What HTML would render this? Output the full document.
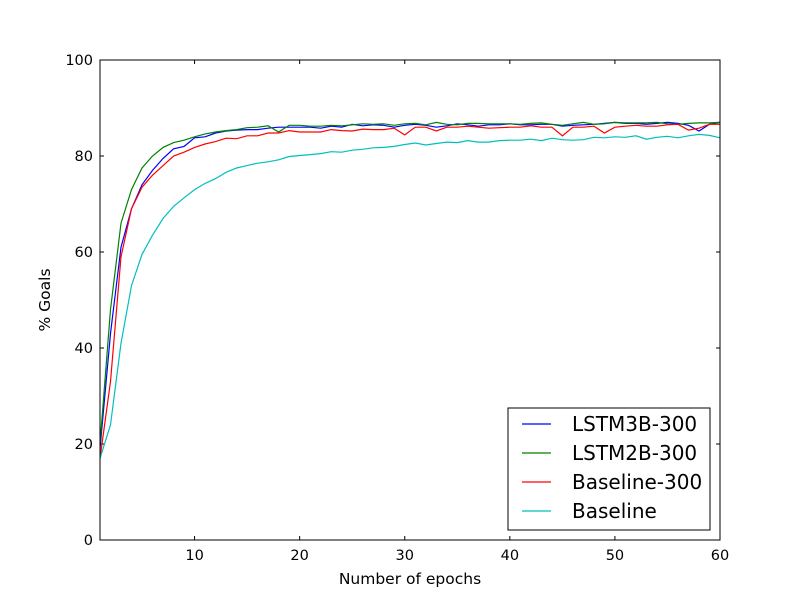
<!DOCTYPE html>
<html><head><meta charset="utf-8"><style>
body{margin:0;background:#fff;}
svg{display:block;font-family:"DejaVu Sans","Liberation Sans",sans-serif;}
</style></head><body>
<svg id="chart" width="800" height="600">
<rect x="0" y="0" width="800" height="600" fill="#fff"/>
<g id="ticks"></g>
<g id="series"></g>
<rect x="100" y="60" width="620" height="480" fill="none" stroke="#000" stroke-width="1"/>
<text x="410" y="584" font-size="15.5" text-anchor="middle">Number of epochs</text>
<text x="50" y="300" font-size="15.5" text-anchor="middle" transform="rotate(-90 50 300)">% Goals</text>
<g id="legend">
<rect x="508" y="408" width="202" height="122" fill="#fff" stroke="#000" stroke-width="1"/>
</g>
</svg>
<script>
const epochs = Array.from({length:60},(_,i)=>i+1);
const lstm3b = [19,43,61,69,74,77,79.5,81.5,82,83.8,84,84.8,85.2,85.4,85.5,85.5,85.8,86,86,86,86,85.8,86.2,86,86.6,86.3,86.5,86.4,86,86.4,86.6,86.4,86,86.3,86.7,86.5,86.2,86.5,86.5,86.7,86.5,86.5,86.6,86.6,86.2,86.4,86.5,86.6,86.8,87,86.8,86.8,86.6,86.8,87,86.8,86.4,85.2,86.6,87];
const lstm2b = [20,48,66,73,77.5,80,81.8,82.8,83.3,84,84.6,85,85.3,85.5,85.9,86,86.3,85,86.4,86.4,86.2,86.2,86.4,86.3,86.5,86.7,86.6,86.7,86.4,86.7,86.8,86.5,87,86.6,86.5,86.8,86.8,86.7,86.7,86.7,86.6,86.8,86.9,86.6,86.4,86.7,87,86.6,86.7,87,86.9,86.9,86.9,87,86.7,86.6,86.8,86.9,86.9,87];
const base300 = [17,33,59,69,73.5,76,78,80,80.8,81.8,82.5,83,83.7,83.6,84.2,84.2,84.8,84.8,85.3,85,85,85,85.5,85.3,85.2,85.6,85.5,85.5,85.8,84.4,86,86,85.2,86,86,86.2,86,85.8,85.9,86,86,86.3,86,86,84.2,86,86,86.2,84.8,86,86.2,86.4,86.2,86.2,86.5,86.6,85.4,85.8,86.6,86.6];
const baseline = [17,24,41,53,59.5,63.5,67,69.5,71.3,73,74.3,75.3,76.6,77.5,78,78.5,78.8,79.2,79.9,80.1,80.3,80.5,80.9,80.8,81.2,81.4,81.7,81.8,82,82.4,82.7,82.3,82.6,82.9,82.8,83.2,82.9,82.9,83.2,83.3,83.3,83.5,83.2,83.7,83.4,83.3,83.4,83.9,83.8,84,83.9,84.2,83.5,83.9,84.1,83.8,84.2,84.5,84.3,83.8];
const xTicks = [10,20,30,40,50,60];
const yTicks = [0,20,40,60,80,100];
const seriesNames = ["LSTM3B-300","LSTM2B-300","Baseline-300","Baseline"];
const seriesColors = ["#0000ff","#008000","#ff0000","#00bfbf"];
const seriesData = [lstm3b,lstm2b,base300,baseline];
const X0=100,X1=720,Y0=540,Y1=60;
function xs(v){return X0+(v-1)/(60-1)*(X1-X0);}
function ys(v){return Y0-(v-0)/(100-0)*(Y0-Y1);}
const NS="http://www.w3.org/2000/svg";
const tg=document.getElementById('ticks');
xTicks.forEach(t=>{
  const x=xs(t);
  [[Y0,Y0-4],[Y1,Y1+4]].forEach(p=>{
    const l=document.createElementNS(NS,'line');
    l.setAttribute('x1',x);l.setAttribute('x2',x);l.setAttribute('y1',p[0]);l.setAttribute('y2',p[1]);
    l.setAttribute('stroke','#000');
    
    
    tg.appendChild(l);
  });
  const tx=document.createElementNS(NS,'text');
  tx.setAttribute('x',x);tx.setAttribute('y',Y0+20);tx.setAttribute('font-size','14.5');tx.setAttribute('text-anchor','middle');
  tx.textContent=t;
  
  
  tg.appendChild(tx);
});
yTicks.forEach(t=>{
  const y=ys(t);
  [[X0,X0+4],[X1,X1-4]].forEach(p=>{
    const l=document.createElementNS(NS,'line');
    l.setAttribute('x1',p[0]);l.setAttribute('x2',p[1]);l.setAttribute('y1',y);l.setAttribute('y2',y);
    l.setAttribute('stroke','#000');
    
    
    tg.appendChild(l);
  });
  const tx=document.createElementNS(NS,'text');
  tx.setAttribute('x',X0-7);tx.setAttribute('y',y+5);tx.setAttribute('font-size','14.5');tx.setAttribute('text-anchor','end');
  tx.textContent=t;
  
  
  tg.appendChild(tx);
});
const sg=document.getElementById('series');
const lg=document.getElementById('legend');
seriesData.forEach((d,i)=>{
  const p=document.createElementNS(NS,'polyline');
  p.setAttribute('points',d.map((v,j)=>xs(epochs[j]).toFixed(1)+','+ys(v).toFixed(1)).join(' '));
  p.setAttribute('fill','none');p.setAttribute('stroke',seriesColors[i]);p.setAttribute('stroke-width','1.2');
  
  
  sg.appendChild(p);
  const y=424+i*29;
  const l=document.createElementNS(NS,'line');
  l.setAttribute('x1',522);l.setAttribute('x2',551);l.setAttribute('y1',y);l.setAttribute('y2',y);
  l.setAttribute('stroke',seriesColors[i]);l.setAttribute('stroke-width','1.2');
  
  
  lg.appendChild(l);
  const t=document.createElementNS(NS,'text');
  t.setAttribute('x',572);t.setAttribute('y',y+7);t.setAttribute('font-size','20');
  t.textContent=seriesNames[i];
  
  
  lg.appendChild(t);
});
</script>
</body></html>
